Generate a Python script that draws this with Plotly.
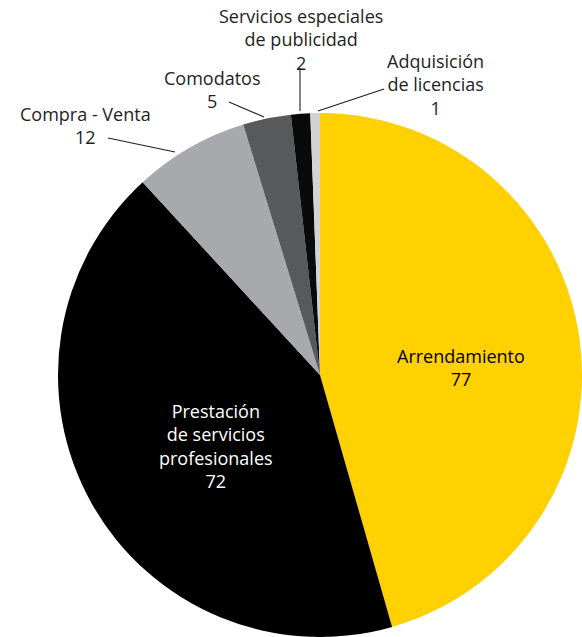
import plotly.graph_objects as go

# data
labels = ["Arrendamiento", "Prestación de servicios profesionales", "Compra - Venta",
          "Comodatos", "Servicios especiales de publicidad", "Adquisición de licencias"]
values = [77, 72, 12, 5, 2, 1]
colors = ["#FFD100", "#000000", "#A7A9AC", "#58595B", "#0A0A0A", "#D1D3D4"]
label_text = ["Arrendamiento", "Prestación<br>de servicios<br>profesionales", "Compra - Venta",
              "Comodatos", "Servicios especiales<br>de publicidad", "Adquisición<br>de licencias"]

W, H = 582, 637
CX, CY, R = 320, 375, 262   # pie centre / radius in pixels

def px(x, y):
    return x / W, 1 - y / H

fig = go.Figure(go.Pie(
    labels=labels, values=values, sort=False, direction="clockwise", rotation=0,
    marker=dict(colors=colors, line=dict(width=0)),
    textinfo="none", hoverinfo="label+value",
    domain=dict(x=[(CX - R) / W, (CX + R) / W], y=[0, 2 * R / H]),
))

FONT = "'Open Sans', Lato, sans-serif"
TXT = "#231F20"

# centre of each text block (pixels) and its colour
label_pos = [(461, 367, "#000000"), (216, 446, "#FFFFFF"), (85, 126, TXT),
             (212, 89, TXT), (301, 40, TXT), (435, 85, TXT)]
# leader lines (label end, slice end) in pixels; None = label inside the slice
leaders = [None, None, ((108, 138), (175, 152)), ((229, 102), (264, 117)),
           ((300, 68), (300, 111)), ((384, 89), (318, 111))]

annotations, shapes = [], []
for i, v in enumerate(values):
    x, y, col = label_pos[i]
    ax, ay = px(x, y)
    annotations.append(dict(
        x=ax, y=ay, xref="paper", yref="paper", showarrow=False,
        xanchor="center", yanchor="middle", align="center",
        text=f"{label_text[i]}<br>{v}",
        font=dict(family=FONT, size=18, color=col)))
    if leaders[i] is not None:
        (sx, sy), (tx, ty) = px(*leaders[i][0]), px(*leaders[i][1])
        shapes.append(dict(type="line", xref="paper", yref="paper",
                           x0=sx, y0=sy, x1=tx, y1=ty,
                           line=dict(color=TXT, width=1.1)))

fig.update_layout(
    width=W, height=H, margin=dict(l=0, r=0, t=0, b=0),
    paper_bgcolor="white", showlegend=False,
    annotations=annotations, shapes=shapes,
)

fig.write_html("out.html", config={"displayModeBar": False},
               post_script="document.body.style.margin='0';")
